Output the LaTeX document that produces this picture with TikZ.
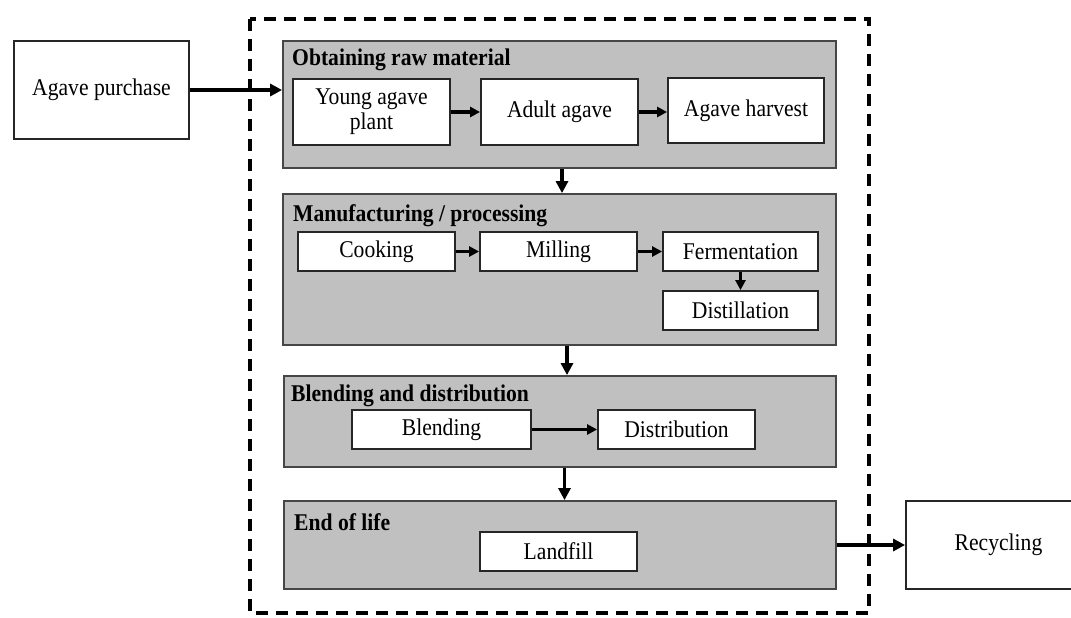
\documentclass[tikz,border=0pt]{standalone}
\usepackage{fontspec}
\usepackage{graphicx}
\setmainfont{Liberation Serif}
\usetikzlibrary{arrows.meta,calc}
\definecolor{panelgray}{RGB}{192,192,192}
\definecolor{edgegray}{RGB}{70,70,70}
\newcommand{\sq}[1]{\scalebox{0.9}[1]{#1}}
\newcommand{\sqtwo}[2]{\scalebox{0.9}[1]{\begin{tabular}{@{}c@{}}#1\\[-1pt]#2\end{tabular}}}
\begin{document}
\begin{tikzpicture}[x=1pt,y=-1pt,
  every node/.style={font=\fontsize{24}{26}\selectfont},
  panel/.style 2 args={draw=edgegray,line width=1.8pt,fill=panelgray,inner sep=0pt,minimum width=#1,minimum height=#2},
  box/.style 2 args={draw=black!85,line width=1.8pt,fill=white,inner sep=0pt,align=center,minimum width=#1,minimum height=#2},
  title/.style={font=\fontsize{24}{26}\selectfont\bfseries,anchor=base west,inner sep=0pt},
  flow/.style={line width=3.8pt,-{Triangle[length=12pt,width=12pt]}},
  subflow/.style={line width=3.4pt,-{Triangle[length=10pt,width=10pt]}},
  boundary/.style={line width=3.2pt,dash pattern=on 12pt off 8pt}]
\useasboundingbox (0,0) rectangle (1071,618);
\fill[white] (0,0) rectangle (1071,618);

% system boundary
\draw[boundary] (250,19) rectangle (869,613);

% external boxes
\node[box={175pt}{98pt}] (purchase) at (101.5,90) {\sq{Agave purchase}};
\node[box={185pt}{88pt}] (recycling) at (998.5,545) {\sq{Recycling}};

% panel 1
\node[panel={553pt}{127pt}] (p1) at (559.5,104.5) {};
\node[title] (t1) at (292,66) {\sq{Obtaining raw material}};
\node[box={157pt}{66pt}] (young) at (371.5,112) {\sqtwo{Young agave}{plant}};
\node[box={157pt}{66pt}] (adult) at (559.5,112) {\sq{Adult agave}};
\node[box={156pt}{65pt}] (harvest) at (746,110.5) {\sq{Agave harvest}};

% panel 2
\node[panel={553pt}{151pt}] (p2) at (559.5,269.5) {};
\node[title] (t2) at (293,221) {\sq{Manufacturing / processing}};
\node[box={157pt}{39pt}] (cooking) at (376.5,251.5) {\sq{Cooking}};
\node[box={157pt}{39pt}] (milling) at (558.5,251.5) {\sq{Milling}};
\node[box={155pt}{39pt}] (ferm) at (740.5,251.5) {\sq{Fermentation}};
\node[box={155pt}{39pt}] (dist) at (740.5,310.5) {\sq{Distillation}};

% panel 3
\node[panel={552pt}{91pt}] (p3) at (560,421.5) {};
\node[title] (t3) at (291,401) {\sq{Blending and distribution}};
\node[box={179pt}{39pt}] (blending) at (441.5,429.5) {\sq{Blending}};
\node[box={157pt}{39pt}] (distribution) at (676.5,429.5) {\sq{Distribution}};

% panel 4
\node[panel={552pt}{88pt}] (p4) at (560,545) {};
\node[title] (t4) at (294,530) {\sq{End of life}};
\node[box={157pt}{39pt}] (landfill) at (558.5,551.5) {\sq{Landfill}};

% connectors
\draw[flow] (purchase.east) -- (purchase.east -| p1.west);
\draw[subflow] (young.east |- adult.east) -- (adult.west);
\draw[subflow] (adult.east) -- (adult.east -| harvest.west);
\draw[flow] ([xshift=2.5pt]p1.south) -- ([xshift=2.5pt]p1.south |- p2.north);
\draw[subflow] (cooking.east) -- (milling.west);
\draw[subflow] (milling.east) -- (ferm.west);
\draw[subflow] (ferm.south) -- (dist.north);
\draw[flow] ([xshift=7.5pt]p2.south) -- ([xshift=7.5pt]p2.south |- p3.north);
\draw[subflow] (blending.east) -- (distribution.west);
\draw[flow] ([xshift=4.5pt]p3.south) -- ([xshift=4.5pt]p3.south |- p4.north);
\draw[flow] (p4.east) -- (recycling.west);
\end{tikzpicture}
\end{document}
